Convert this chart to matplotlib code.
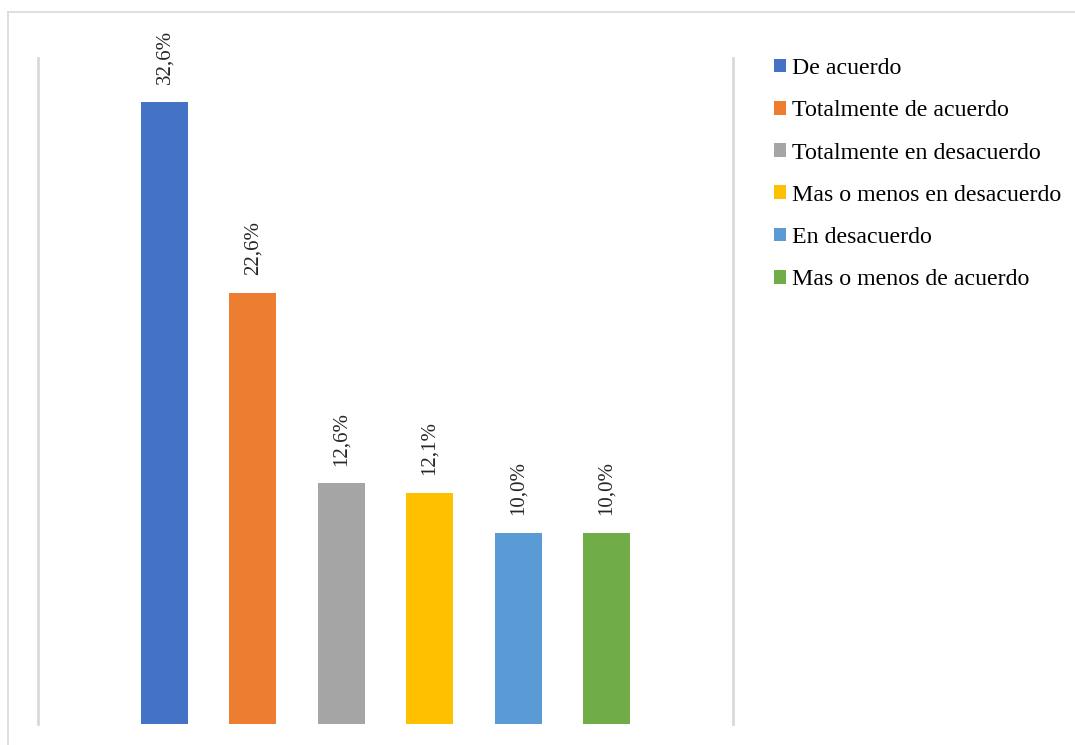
import matplotlib
matplotlib.use("Agg")
import matplotlib.pyplot as plt
from matplotlib.patches import Patch
from matplotlib.lines import Line2D

categories = [
    "De acuerdo",
    "Totalmente de acuerdo",
    "Totalmente en desacuerdo",
    "Mas o menos en desacuerdo",
    "En desacuerdo",
    "Mas o menos de acuerdo",
]
values = [32.6, 22.6, 12.6, 12.1, 10.0, 10.0]
colors = ["#4472C4", "#ED7D31", "#A5A5A5", "#FFC000", "#5B9BD5", "#70AD47"]

plt.rcParams["font.family"] = ["Liberation Serif", "DejaVu Serif"]

W, H = 1075, 745
fig = plt.figure(figsize=(W / 100, H / 100), dpi=100)

# light frame edges (top and left) of the chart area
frame = dict(transform=fig.transFigure, color="#D9D9D9", linewidth=1.2)
fig.add_artist(Line2D([8 / W, 1], [1 - 12 / H, 1 - 12 / H], **frame))
fig.add_artist(Line2D([8 / W, 8 / W], [0, 1 - 12 / H], **frame))

ax = fig.add_axes([38 / W, 1 - 723.5 / H, (733 - 38) / W, (723.5 - 58) / H])

x = list(range(len(categories)))
bars = ax.bar(x, values, width=0.532, color=colors)

for xi, v in zip(x, values):
    ax.annotate(f"{v:.1f}%".replace(".", ","), (xi, v),
                xytext=(0, 12.5), textcoords="offset points",
                rotation=90, ha="center", va="bottom", fontsize=15,
                color="#262626")

ax.set_xlim(-1.431, 6.431)
ax.set_ylim(0, 34.9)
ax.set_xticks([])
ax.set_yticks([])
for side in ("top", "bottom"):
    ax.spines[side].set_visible(False)
for side in ("left", "right"):
    ax.spines[side].set_color("#D9D9D9")
    ax.spines[side].set_linewidth(2)

handles = [Patch(facecolor=c, edgecolor="none") for c in colors]
fig.legend(handles, categories, loc="upper left",
           bbox_to_anchor=(774 / W, 1 - 58 / H), frameon=False,
           fontsize=17.2, handlelength=0.5, handleheight=0.5,
           handletextpad=0.25, labelspacing=0.89, borderpad=0,
           borderaxespad=0)

fig.savefig("out.png", dpi=100)
